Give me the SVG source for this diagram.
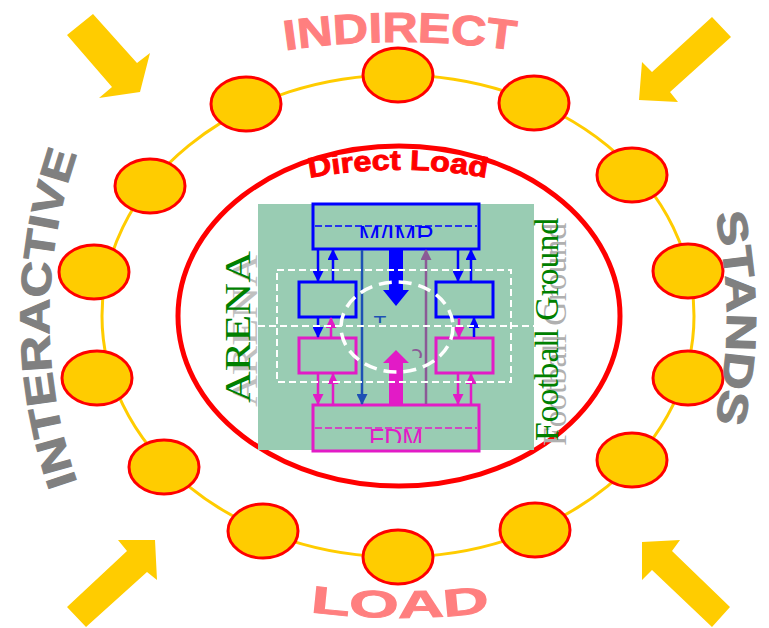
<svg xmlns="http://www.w3.org/2000/svg" width="769" height="628" viewBox="0 0 769 628">
<style>
.seat{fill:#FFCC00;stroke:#FF0000;stroke-width:3}
.arr{fill:#FFCC00}
.outer{font-family:"Liberation Sans",Arial,sans-serif;font-weight:bold}
.pink{fill:#FF7F7F;stroke:#FF7F7F;stroke-width:1}
.gray{fill:#808080;stroke:#808080;stroke-width:1}
.serif{font-family:"Liberation Serif","Times New Roman",serif}
.bl{stroke:#0000FF;stroke-width:2.5;fill:none}
.mg{stroke:#E21BC6;stroke-width:2.5;fill:none}
.wd{stroke:#FFFFFF;stroke-width:2;fill:none;stroke-dasharray:7 4}
</style>
<defs>
<marker id="hb" viewBox="0 0 10 10" refX="9" refY="5" markerWidth="13" markerHeight="11" markerUnits="userSpaceOnUse" orient="auto"><path d="M0,0 L10,5 L0,10 z" fill="#0000FF"/></marker>
<marker id="hm" viewBox="0 0 10 10" refX="9" refY="5" markerWidth="13" markerHeight="11" markerUnits="userSpaceOnUse" orient="auto"><path d="M0,0 L10,5 L0,10 z" fill="#E21BC6"/></marker>
<marker id="hd" viewBox="0 0 10 10" refX="9" refY="5" markerWidth="13" markerHeight="11" markerUnits="userSpaceOnUse" orient="auto"><path d="M0,0 L10,5 L0,10 z" fill="#1E50B4"/></marker>
<marker id="hp" viewBox="0 0 10 10" refX="9" refY="5" markerWidth="13" markerHeight="11" markerUnits="userSpaceOnUse" orient="auto"><path d="M0,0 L10,5 L0,10 z" fill="#8B5A96"/></marker>
<path id="pIndirect" d="M 268 53 A 800 800 0 0 1 532 53"/>
<path id="pLoad" d="M 290 609 A 700 700 0 0 0 510 609"/>
<path id="pInter" d="M 92 520 A 500 500 0 0 1 92 116"/>
<path id="pStands" d="M 702 168 A 465 465 0 0 1 702 468"/>
<path id="pDirect" d="M 290 182 A 480 480 0 0 1 506 182"/>
<clipPath id="cTop"><rect x="313" y="204" width="166" height="34"/></clipPath>
<clipPath id="cBot"><rect x="313" y="405" width="166" height="38"/></clipPath>
<clipPath id="cT"><rect x="368" y="313" width="24" height="10"/></clipPath>
<clipPath id="cP"><rect x="405" y="347" width="24" height="11"/></clipPath>
</defs>

<!-- corner arrows -->
<g id="arrow-tl"><polygon class="arr" points="67,35 93,14 137,63 150,53 140,92 99,98 112,87"/></g>
<g id="arrow-tr"><polygon class="arr" points="712,17 731,37 670,92 678,102 639,100 642,62 652,72"/></g>
<g id="arrow-bl"><polygon class="arr" points="67,607 86,627 147,572 157,580 155,540 118,540 127,551"/></g>
<g id="arrow-br"><polygon class="arr" points="730,607 712,627 652,570 642,580 642,542 680,540 672,551"/></g>

<!-- orbit -->
<ellipse id="orbit" cx="398" cy="316" rx="296" ry="241" fill="none" stroke="#FFCC00" stroke-width="3"/>

<!-- seats -->
<g id="seats">
<ellipse class="seat" cx="398" cy="75" rx="35" ry="27"/>
<ellipse class="seat" cx="246" cy="104" rx="35" ry="27"/>
<ellipse class="seat" cx="534" cy="103" rx="35" ry="27"/>
<ellipse class="seat" cx="150" cy="186" rx="35" ry="27"/>
<ellipse class="seat" cx="632" cy="175" rx="35" ry="27"/>
<ellipse class="seat" cx="94" cy="272" rx="35" ry="27"/>
<ellipse class="seat" cx="688" cy="271" rx="35" ry="27"/>
<ellipse class="seat" cx="97" cy="378" rx="35" ry="27"/>
<ellipse class="seat" cx="688" cy="378" rx="35" ry="27"/>
<ellipse class="seat" cx="164" cy="467" rx="35" ry="27"/>
<ellipse class="seat" cx="632" cy="460" rx="35" ry="27"/>
<ellipse class="seat" cx="263" cy="531" rx="35" ry="27"/>
<ellipse class="seat" cx="535" cy="530" rx="35" ry="27"/>
<ellipse class="seat" cx="398" cy="557" rx="35" ry="27"/>
</g>

<!-- outer labels -->
<text class="outer pink" font-size="42"><textPath href="#pIndirect" startOffset="50%" text-anchor="middle" textLength="230" lengthAdjust="spacingAndGlyphs">INDIRECT</textPath></text>
<text class="outer pink" font-size="38"><textPath href="#pLoad" startOffset="50%" text-anchor="middle" textLength="180" lengthAdjust="spacingAndGlyphs">LOAD</textPath></text>
<text class="outer gray" font-size="42"><textPath href="#pInter" startOffset="50%" text-anchor="middle" textLength="335" lengthAdjust="spacingAndGlyphs">INTERACTIVE</textPath></text>
<text class="outer gray" font-size="42"><textPath href="#pStands" startOffset="50%" text-anchor="middle" textLength="210" lengthAdjust="spacingAndGlyphs">STANDS</textPath></text>

<!-- direct load ring -->
<ellipse id="direct-ring" cx="399" cy="316" rx="221" ry="170" fill="none" stroke="#FF0000" stroke-width="5"/>
<text class="outer" font-size="28" fill="#FF0000" stroke="#FF0000" stroke-width="0.9"><textPath href="#pDirect" startOffset="50%" text-anchor="middle" textLength="178" lengthAdjust="spacingAndGlyphs">Direct Load</textPath></text>

<!-- arena -->
<g id="arena-labels">
<text class="serif" font-size="36" fill="#C0C0C0" transform="translate(257,407) rotate(-90)" textLength="152" lengthAdjust="spacingAndGlyphs">ARENA</text>
<text class="serif" font-size="36" fill="#008000" transform="translate(250,403) rotate(-90)" textLength="152" lengthAdjust="spacingAndGlyphs">ARENA</text>
</g>
<rect id="ground" x="258" y="204" width="276" height="246" fill="#99CCB3"/>
<g id="ground-labels">
<text class="serif" font-size="34" fill="#B0B0B0" transform="translate(566,446) rotate(-90)" textLength="223" lengthAdjust="spacingAndGlyphs">Football Ground</text>
<text class="serif" font-size="34" fill="#008000" transform="translate(558,441) rotate(-90)" textLength="223" lengthAdjust="spacingAndGlyphs">Football Ground</text>
</g>

<!-- inner nodes -->
<g id="node-mimp">
<rect x="313" y="204" width="166" height="45" fill="none" stroke="#0000FF" stroke-width="3"/>
<line x1="315" y1="226" x2="477" y2="226" stroke="#0000FF" stroke-width="1.5" stroke-dasharray="7 3"/>
<text clip-path="url(#cTop)" x="396" y="244" font-family="Liberation Sans,Arial,sans-serif" font-size="26" fill="#0000FF" text-anchor="middle">M/IMP</text>
</g>
<g id="node-fdm">
<rect x="313" y="405" width="166" height="46" fill="none" stroke="#E21BC6" stroke-width="3"/>
<line x1="315" y1="428" x2="477" y2="428" stroke="#E21BC6" stroke-width="1.5" stroke-dasharray="7 3"/>
<text clip-path="url(#cBot)" x="396" y="447" font-family="Liberation Sans,Arial,sans-serif" font-size="25" fill="#E21BC6" text-anchor="middle">FDM</text>
</g>
<g id="node-b1"><rect x="299" y="282" width="57" height="35" fill="none" stroke="#0000FF" stroke-width="3"/></g>
<g id="node-b2"><rect x="436" y="282" width="57" height="35" fill="none" stroke="#0000FF" stroke-width="3"/></g>
<g id="node-m1"><rect x="299" y="338" width="57" height="35" fill="none" stroke="#E21BC6" stroke-width="3"/></g>
<g id="node-m2"><rect x="436" y="338" width="57" height="35" fill="none" stroke="#E21BC6" stroke-width="3"/></g>

<!-- connectors -->
<g id="connectors">
<line class="bl" x1="318" y1="250" x2="318" y2="281" marker-end="url(#hb)"/>
<line class="bl" x1="333" y1="281" x2="333" y2="250" marker-end="url(#hb)"/>
<line class="bl" x1="458" y1="250" x2="458" y2="281" marker-end="url(#hb)"/>
<line class="bl" x1="471" y1="281" x2="471" y2="250" marker-end="url(#hb)"/>
<line class="bl" x1="318" y1="318" x2="318" y2="337" marker-end="url(#hb)"/>
<line class="mg" x1="331" y1="337" x2="331" y2="318" marker-end="url(#hm)"/>
<line class="mg" x1="459" y1="318" x2="459" y2="337" marker-end="url(#hm)"/>
<line class="bl" x1="474" y1="337" x2="474" y2="318" marker-end="url(#hb)"/>
<line class="mg" x1="318" y1="374" x2="318" y2="404" marker-end="url(#hm)"/>
<line class="mg" x1="333" y1="404" x2="333" y2="374" marker-end="url(#hm)"/>
<line class="mg" x1="458" y1="374" x2="458" y2="404" marker-end="url(#hm)"/>
<line class="mg" x1="471" y1="404" x2="471" y2="374" marker-end="url(#hm)"/>
<line x1="362" y1="250" x2="362" y2="404" stroke="#1E50B4" stroke-width="2.5" marker-end="url(#hd)"/>
<line x1="426" y1="404" x2="426" y2="250" stroke="#8B5A96" stroke-width="2.5" marker-end="url(#hp)"/>
<polygon points="389,249 403,249 403,290 409,290 396,306 383,290 389,290" fill="#0000FF"/>
<polygon points="389,405 403,405 403,363 409,363 396,350 383,363 389,363" fill="#E21BC6"/>
</g>

<!-- white dashed zones -->
<g id="zones">
<rect class="wd" x="277" y="270" width="234" height="112"/>
<line class="wd" x1="258" y1="326" x2="534" y2="326"/>
<ellipse cx="397" cy="327" rx="56" ry="45" fill="none" stroke="#FFFFFF" stroke-width="3.5" stroke-dasharray="13 7"/>
</g>
<text clip-path="url(#cT)" x="380" y="330" font-family="Liberation Sans,Arial,sans-serif" font-size="21" fill="#1E50B4" text-anchor="middle">T</text>
<text clip-path="url(#cP)" x="417" y="361" font-family="DejaVu Sans,sans-serif" font-size="22" fill="#8B5A96" text-anchor="middle">ɔ</text>
</svg>
